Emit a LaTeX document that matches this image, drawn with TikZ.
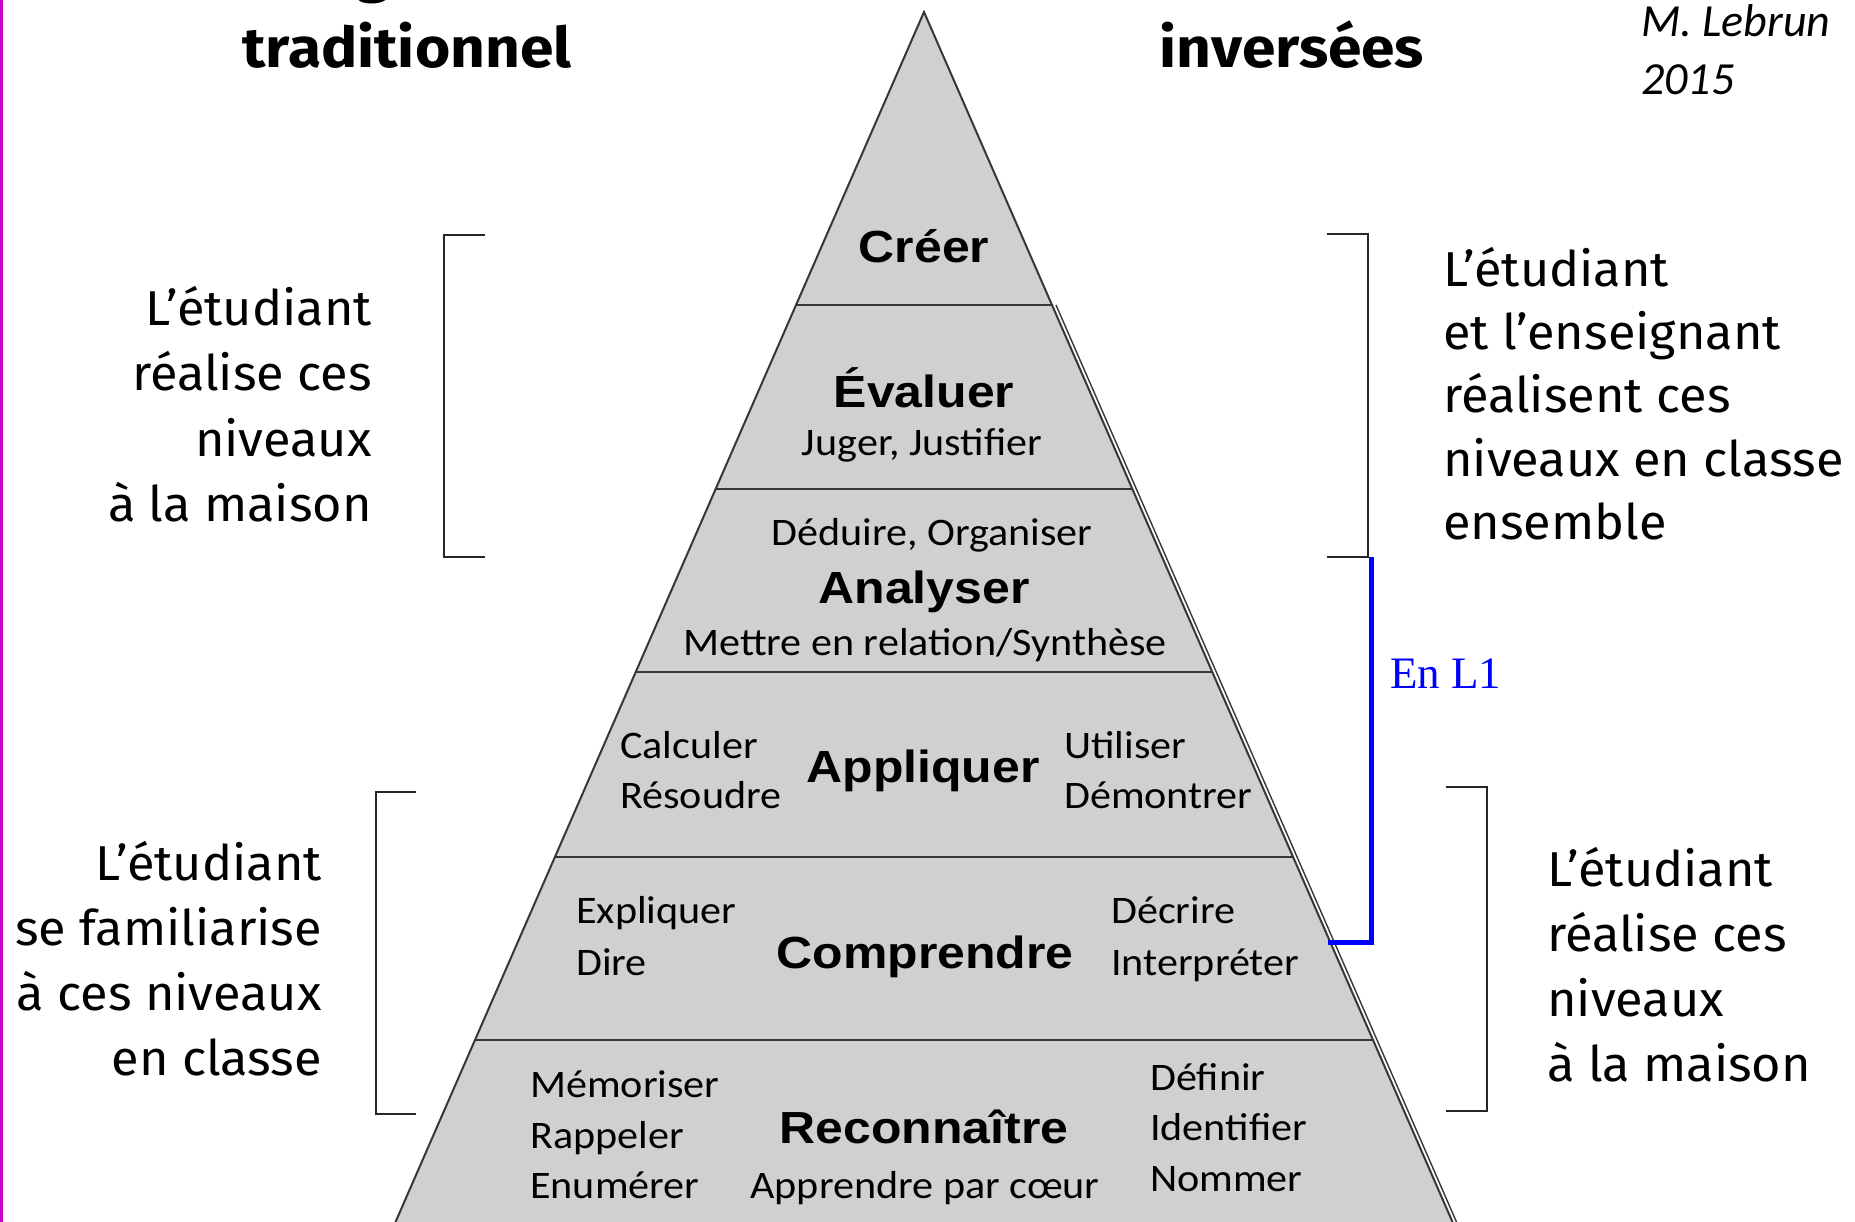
\documentclass[tikz,border=0pt]{standalone}
\usepackage{fontspec}
\setmainfont{Carlito}
\newfontfamily\headfont{Liberation Sans}
\newfontfamily\sidefont{Fira Sans}
\newfontfamily\bluefont{Liberation Serif}
\usetikzlibrary{calc}
\definecolor{pyrgray}{RGB}{208,208,208}
\definecolor{edgegray}{RGB}{55,55,55}
\definecolor{mag}{RGB}{204,0,204}
\definecolor{myblue}{RGB}{0,0,255}
\tikzset{
  lvl/.style={font=\headfont\bfseries\fontsize{45}{50}\selectfont, xscale=1.11, anchor=base, inner sep=0pt},
  verb/.style={font=\fontsize{39}{46}\selectfont, xscale=1.08, anchor=base, inner sep=0pt},
  verbl/.style={verb, anchor=base west},
  side/.style={font=\sidefont\fontsize{49}{60}\selectfont, xscale=1.03, inner sep=0pt},
  sidel/.style={side, anchor=base west},
  sider/.style={side, anchor=base east},
  titletext/.style={font=\sidefont\bfseries\fontsize{56}{60}\selectfont, xscale=1.08, anchor=base, inner sep=0pt},
  signature/.style={font=\itshape\fontsize{46}{50}\selectfont, anchor=base west, inner sep=0pt},
  brk/.style={draw=black!85, line width=2pt},
  divline/.style={draw=edgegray, line width=2.2pt},
  edge/.style={draw=edgegray, line width=2pt},
}
\begin{document}
\begin{tikzpicture}[x=1pt, y=-1pt]
\useasboundingbox (0,0) rectangle (1855,1222);
\fill[white] (0,0) rectangle (1855,1222);
\draw[mag, line width=3pt] (1,0) -- (1,1222);

% pyramid
\coordinate (apex) at (924,12);
\coordinate (bl) at (395.5,1222);
\coordinate (br) at (1452.5,1222);
\fill[pyrgray] (apex) -- (bl) -- (br) -- cycle;
\foreach \t in {0.24215,0.39421,0.54545,0.69835,0.84959}{
  \draw[divline] ($(apex)!\t!(bl)$) -- ($(apex)!\t!(br)$);
}
\draw[edge] (bl) -- (apex) -- (br);
\draw[edge, line width=1.4pt] ($(apex)!0.24215!(br)+(4,0)$) -- ($(br)+(4,0)$);

% titles
\node[titletext] (gpart) at (373,-8) {g};
\node[titletext] (trad) at (407,68) {traditionnel};
\node[titletext] (inv) at (1292,68) {inversées};
\node[signature] (sig1) at (1641,37) {M. Lebrun};
\node[signature] (sig2) at (1641,95) {2015};

% level labels
\node[lvl] (creer) at (924,263) {Créer};
\node[lvl] (evaluer) at (924,407) {Évaluer};
\node[verb] (juger) at (922,455) {Juger, Justifier};
\node[verb] (deduire) at (932,545) {Déduire, Organiser};
\node[lvl] (analyser) at (924,603) {Analyser};
\node[verb] (mettre) at (925,655) {Mettre en relation/Synthèse};

\node[lvl] (appliquer) at (923,782) {Appliquer};
\node[verbl] (calculer) at (620,758) {Calculer};
\node[verbl] (resoudre) at (620,808) {Résoudre};
\node[verbl] (utiliser) at (1064,758) {Utiliser};
\node[verbl] (demontrer) at (1064,808) {Démontrer};

\node[lvl] (comprendre) at (925,968) {Comprendre};
\node[verbl] (expliquer) at (576,923) {Expliquer};
\node[verbl] (dire) at (576,975) {Dire};
\node[verbl] (decrire) at (1111,923) {Décrire};
\node[verbl] (interpreter) at (1111,975) {Interpréter};

\node[lvl] (reconnaitre) at (924,1143) {Reconnaître};
\node[verb] (apprendre) at (925,1198) {Apprendre par cœur};
\node[verbl] (memoriser) at (530,1097) {Mémoriser};
\node[verbl] (rappeler) at (530,1148) {Rappeler};
\node[verbl] (enumerer) at (530,1198) {Enumérer};
\node[verbl] (definir) at (1150,1090) {Définir};
\node[verbl] (identifier) at (1150,1140) {Identifier};
\node[verbl] (nommer) at (1150,1191) {Nommer};

% left top block
\node[sider] (lt1) at (372,326) {L’étudiant};
\node[sider] (lt2) at (372,391) {réalise ces};
\node[sider] (lt3) at (372,456) {niveaux};
\node[sider] (lt4) at (372,521) {à la maison};
\draw[brk] (485,235) -- (444,235) -- (444,557) -- (485,557);

% right top block
\node[sidel] (rt1) at (1443,287) {L’étudiant};
\node[sidel] (rt2) at (1443,350) {et l’enseignant};
\node[sidel] (rt3) at (1443,413) {réalisent ces};
\node[sidel] (rt4) at (1443,476) {niveaux en classe};
\node[sidel] (rt5) at (1443,539) {ensemble};
\draw[brk] (1327,234) -- (1368,234) -- (1368,557) -- (1327,557);

% left bottom block
\node[sider] (lb1) at (322,880) {L’étudiant};
\node[sider] (lb2) at (322,945) {se familiarise};
\node[sider] (lb3) at (322,1010) {à ces niveaux};
\node[sider] (lb4) at (322,1075) {en classe};
\draw[brk] (416,792) -- (376,792) -- (376,1114) -- (416,1114);

% right bottom block
\node[sidel] (rb1) at (1547,886) {L’étudiant};
\node[sidel] (rb2) at (1547,951) {réalise ces};
\node[sidel] (rb3) at (1547,1016) {niveaux};
\node[sidel] (rb4) at (1547,1081) {à la maison};
\draw[brk] (1446,787) -- (1487,787) -- (1487,1111) -- (1446,1111);

% blue bracket
\draw[myblue, line width=5pt] (1371,557) -- (1371,942) -- (1328,942);
\node[font=\bluefont\fontsize{45}{50}\selectfont, text=myblue, anchor=base west, inner sep=0pt] (enl1) at (1390,688) {En L1};
\end{tikzpicture}
\end{document}
